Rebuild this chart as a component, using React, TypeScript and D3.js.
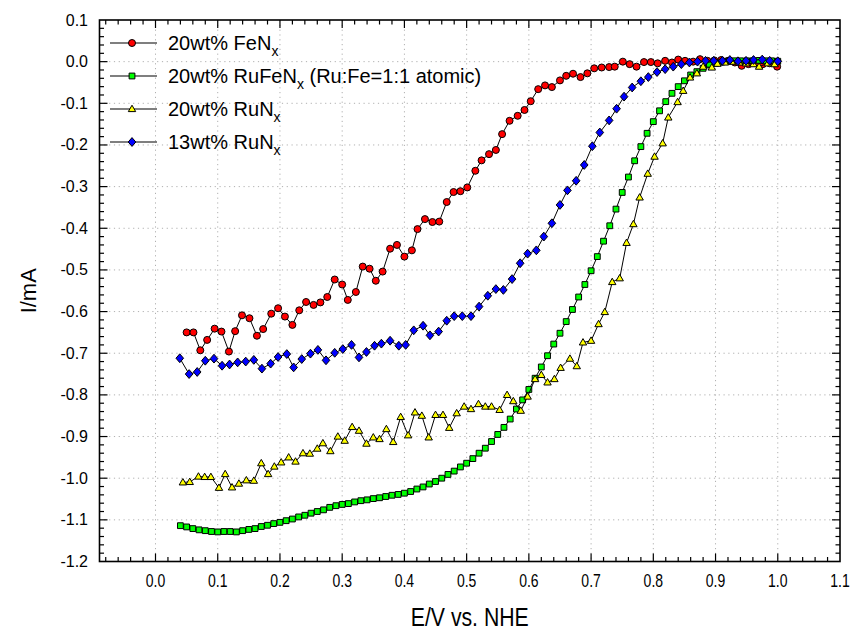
import React from "react";
import * as d3 from "d3";

// ---------- data ----------
const feE = [0.050,0.061,0.072,0.083,0.095,0.106,0.118,0.128,0.139,0.151,0.163,0.173,0.186,0.197,0.208,0.220,0.231,0.242,0.254,0.265,0.276,0.288,0.300,0.309,0.322,0.333,0.344,0.354,0.365,0.377,0.388,0.400,0.412,0.421,0.433,0.445,0.456,0.468,0.479,0.490,0.501,0.514,0.524,0.536,0.547,0.557,0.569,0.582,0.593,0.603,0.615,0.626,0.637,0.650,0.660,0.671,0.683,0.694,0.705,0.717,0.729,0.738,0.751,0.762,0.773,0.785,0.796,0.807,0.819,0.830,0.840,0.851,0.864,0.875,0.887,0.898,0.909,0.920,0.931,0.942,0.953,0.965,0.976,0.987,0.999];
const feI = [-0.650,-0.650,-0.693,-0.668,-0.641,-0.648,-0.696,-0.647,-0.609,-0.616,-0.658,-0.642,-0.605,-0.592,-0.612,-0.632,-0.597,-0.577,-0.584,-0.578,-0.565,-0.523,-0.535,-0.572,-0.553,-0.492,-0.497,-0.526,-0.504,-0.449,-0.440,-0.468,-0.453,-0.402,-0.378,-0.385,-0.384,-0.337,-0.313,-0.311,-0.302,-0.262,-0.237,-0.222,-0.212,-0.174,-0.142,-0.130,-0.116,-0.095,-0.066,-0.057,-0.061,-0.045,-0.034,-0.029,-0.037,-0.028,-0.016,-0.014,-0.013,-0.012,0.000,-0.006,-0.012,-0.001,-0.001,-0.004,0.002,-0.002,0.005,0.002,0.000,0.006,0.002,0.003,0.004,0.002,-0.002,-0.010,-0.006,-0.004,-0.006,-0.004,-0.012];

const rufeE = [0.04,0.05,0.06,0.07,0.08,0.09,0.10,0.11,0.12,0.13,0.14,0.15,0.16,0.17,0.18,0.19,0.20,0.21,0.22,0.23,0.24,0.25,0.26,0.27,0.28,0.29,0.30,0.31,0.32,0.33,0.34,0.35,0.36,0.37,0.38,0.39,0.40,0.41,0.42,0.43,0.44,0.45,0.46,0.47,0.48,0.49,0.50,0.51,0.52,0.53,0.54,0.55,0.56,0.57,0.58,0.59,0.60,0.61,0.62,0.63,0.64,0.65,0.66,0.67,0.68,0.69,0.70,0.71,0.72,0.73,0.74,0.75,0.76,0.77,0.78,0.79,0.80,0.81,0.82,0.83,0.84,0.85,0.86,0.87,0.88,0.89,0.90,0.91,0.92,0.93,0.94,0.95,0.96,0.97,0.98,0.99,1.00];
const rufeI = [-1.114,-1.117,-1.121,-1.124,-1.126,-1.128,-1.129,-1.128,-1.128,-1.129,-1.126,-1.123,-1.121,-1.116,-1.113,-1.109,-1.106,-1.102,-1.098,-1.093,-1.089,-1.084,-1.080,-1.076,-1.070,-1.066,-1.063,-1.061,-1.057,-1.054,-1.052,-1.049,-1.047,-1.044,-1.041,-1.039,-1.036,-1.032,-1.026,-1.021,-1.014,-1.008,-1.000,-0.991,-0.983,-0.973,-0.964,-0.953,-0.940,-0.928,-0.912,-0.895,-0.878,-0.858,-0.834,-0.812,-0.787,-0.760,-0.733,-0.706,-0.678,-0.652,-0.624,-0.595,-0.565,-0.535,-0.502,-0.468,-0.431,-0.394,-0.354,-0.314,-0.277,-0.238,-0.204,-0.172,-0.144,-0.118,-0.096,-0.076,-0.060,-0.046,-0.032,-0.024,-0.016,-0.008,-0.004,-0.001,0.001,0.002,0.002,0.002,0.002,0.003,0.002,0.002,0.001];

const ru20E = [0.044,0.055,0.069,0.079,0.089,0.102,0.112,0.123,0.134,0.146,0.158,0.170,0.181,0.191,0.202,0.214,0.225,0.237,0.248,0.260,0.269,0.281,0.293,0.304,0.316,0.327,0.339,0.350,0.360,0.371,0.382,0.394,0.406,0.417,0.428,0.439,0.450,0.462,0.472,0.484,0.496,0.507,0.519,0.530,0.540,0.553,0.565,0.575,0.587,0.598,0.610,0.620,0.630,0.641,0.651,0.666,0.677,0.687,0.700,0.712,0.722,0.734,0.746,0.757,0.768,0.778,0.791,0.802,0.815,0.824,0.839,0.848,0.859,0.870,0.880,0.894,0.903,0.915,0.926,0.938,0.949,0.961,0.970,0.984,0.995];
const ru20I = [-1.010,-1.009,-0.996,-0.997,-0.997,-1.023,-0.990,-1.022,-1.013,-1.005,-1.006,-0.964,-0.990,-0.972,-0.962,-0.950,-0.960,-0.940,-0.941,-0.929,-0.916,-0.935,-0.900,-0.910,-0.877,-0.886,-0.917,-0.902,-0.906,-0.882,-0.913,-0.853,-0.897,-0.842,-0.850,-0.902,-0.848,-0.848,-0.879,-0.844,-0.828,-0.834,-0.822,-0.828,-0.828,-0.836,-0.800,-0.815,-0.838,-0.804,-0.762,-0.752,-0.770,-0.762,-0.735,-0.713,-0.731,-0.674,-0.670,-0.630,-0.601,-0.529,-0.520,-0.435,-0.390,-0.326,-0.269,-0.228,-0.196,-0.134,-0.097,-0.070,-0.038,-0.028,-0.012,-0.014,-0.005,-0.002,0.000,-0.002,-0.004,-0.006,-0.012,-0.004,-0.006];

const ru13E = [0.039,0.054,0.067,0.080,0.094,0.107,0.119,0.132,0.145,0.158,0.171,0.185,0.197,0.211,0.222,0.235,0.249,0.261,0.274,0.288,0.301,0.315,0.327,0.339,0.352,0.363,0.377,0.391,0.402,0.415,0.430,0.441,0.455,0.468,0.480,0.493,0.507,0.520,0.534,0.547,0.559,0.573,0.586,0.598,0.612,0.624,0.637,0.650,0.662,0.676,0.689,0.702,0.714,0.729,0.741,0.753,0.766,0.780,0.792,0.806,0.819,0.832,0.845,0.858,0.871,0.884,0.897,0.911,0.923,0.936,0.949,0.961,0.975,0.987,1.000];
const ru13I = [-0.712,-0.750,-0.745,-0.718,-0.713,-0.730,-0.727,-0.722,-0.720,-0.716,-0.737,-0.725,-0.709,-0.702,-0.734,-0.714,-0.701,-0.692,-0.717,-0.699,-0.690,-0.680,-0.710,-0.697,-0.682,-0.677,-0.670,-0.682,-0.680,-0.645,-0.634,-0.657,-0.648,-0.622,-0.611,-0.611,-0.611,-0.588,-0.562,-0.546,-0.548,-0.522,-0.484,-0.461,-0.453,-0.420,-0.388,-0.344,-0.309,-0.286,-0.248,-0.203,-0.170,-0.141,-0.113,-0.084,-0.062,-0.047,-0.037,-0.025,-0.018,-0.012,-0.006,-0.002,0.000,0.002,0.002,0.002,0.004,0.001,0.002,0.004,0.005,0.002,0.001];

const seriesNames = ["20wt% FeN", "20wt% RuFeN", "20wt% RuN", "13wt% RuN"];
const seriesSuffix = ["", " (Ru:Fe=1:1 atomic)", "", ""];
const seriesColors = ["#ff0000", "#00ff00", "#ffff00", "#0000ff"];
const seriesMarkers = ["circle", "square", "triangle", "diamond"];

const xTickValues = [0.0, 0.1, 0.2, 0.3, 0.4, 0.5, 0.6, 0.7, 0.8, 0.9, 1.0, 1.1];
const yTickValues = [0.1, 0.0, -0.1, -0.2, -0.3, -0.4, -0.5, -0.6, -0.7, -0.8, -0.9, -1.0, -1.1, -1.2];

const xTitle = "E/V vs. NHE";
const yTitle = "I/mA";

// ---------- layout ----------
const W = 854;
const H = 638;
const L = 99.5, R = 840, T = 20, B = 561.5;
const FONT = "'Liberation Sans', Arial, Helvetica, sans-serif";

function markerPath(kind: string): string {
  switch (kind) {
    case "circle":
      return "M3.5,0A3.5,3.5,0,1,1,-3.5,0A3.5,3.5,0,1,1,3.5,0Z";
    case "square":
      return "M-2.9,-2.9H2.9V2.9H-2.9Z";
    case "triangle":
      return "M0,-3.8L3.7,2.6L-3.7,2.6Z";
    default:
      return "M0,-4.4L3.8,0L0,4.4L-3.8,0Z";
  }
}

export default function App() {
  const x = d3.scaleLinear().domain([-0.09, 1.1]).range([L, R]);
  const y = d3.scaleLinear().domain([-1.2, 0.1]).range([B, T]);

  const allSeries = [
    { xs: feE, ys: feI },
    { xs: rufeE, ys: rufeI },
    { xs: ru20E, ys: ru20I },
    { xs: ru13E, ys: ru13I },
  ].map((s, i) => ({
    pts: s.xs.map((v, j) => [v, s.ys[j]] as [number, number]),
    color: seriesColors[i],
    marker: seriesMarkers[i],
  }));

  const line = d3
    .line<[number, number]>()
    .x((d) => x(d[0]))
    .y((d) => y(d[1]));

  const xMinor = d3.range(-8, 56).map((k) => k * 0.02).filter((v) => v > -0.09 && v < 1.1);
  const yMinor = d3.range(-60, 6).map((k) => k * 0.02).filter((v) => v > -1.2 && v < 0.1);
  const isMajor = (v: number) => Math.abs(v * 10 - Math.round(v * 10)) < 1e-6;

  const fmt = d3.format(".1f");
  const fmtY = (v: number) => fmt(v).replace("−", "-");

  const gridX = xTickValues.filter((v) => v < 1.05);
  const gridY = yTickValues.filter((v) => v < 0.05 && v > -1.15);

  const legendY = [43, 76, 109, 142];

  return (
    <svg
      width={W}
      height={H}
      viewBox={`0 0 ${W} ${H}`}
      style={{ position: "absolute", left: 0, top: 0, background: "#fff" }}
      fontFamily={FONT}
    >
      <rect x={0} y={0} width={W} height={H} fill="#fff" />
      {/* grid */}
      <g stroke="#b0b0b0" strokeWidth={1} strokeDasharray="1.2,3.6">
        {gridX.map((v) => (
          <line key={"gx" + v} x1={x(v)} x2={x(v)} y1={T} y2={B} />
        ))}
        {gridY.map((v) => (
          <line key={"gy" + v} x1={L} x2={R} y1={y(v)} y2={y(v)} />
        ))}
      </g>

      {/* ticks */}
      <g stroke="#000" strokeWidth={1.2}>
        {xMinor.map((v) => {
          const len = isMajor(v) ? 8 : 4.5;
          return (
            <g key={"xt" + v}>
              <line x1={x(v)} x2={x(v)} y1={B} y2={B - len} />
              <line x1={x(v)} x2={x(v)} y1={T} y2={T + len} />
            </g>
          );
        })}
        {yMinor.map((v) => {
          const len = isMajor(v) ? 8 : 4.5;
          return (
            <g key={"yt" + v}>
              <line x1={L} x2={L + len} y1={y(v)} y2={y(v)} />
              <line x1={R} x2={R - len} y1={y(v)} y2={y(v)} />
            </g>
          );
        })}
      </g>

      {/* frame */}
      <rect x={L} y={T} width={R - L} height={B - T} fill="none" stroke="#000" strokeWidth={1.6} />

      {/* series */}
      {allSeries.map((s, i) => (
        <g key={"s" + i}>
          <path d={line(s.pts) || ""} fill="none" stroke="#000" strokeWidth={1} />
          {s.pts.map((p, j) => (
            <path
              key={j}
              d={markerPath(s.marker)}
              transform={`translate(${x(p[0])},${y(p[1])})`}
              fill={s.color}
              stroke="#000"
              strokeWidth={1}
            />
          ))}
        </g>
      ))}

      {/* x tick labels (condensed) */}
      {xTickValues.map((v) => (
        <text
          key={"xl" + v}
          transform={`translate(${x(v)},${587}) scale(0.8,1)`}
          textAnchor="middle"
          fontSize={17.5}
          fill="#000"
        >
          {fmt(v)}
        </text>
      ))}

      {/* y tick labels */}
      {yTickValues.map((v) => (
        <text key={"yl" + v} x={88} y={y(v) + 5.5} textAnchor="end" fontSize={16} fill="#000">
          {fmtY(v)}
        </text>
      ))}

      {/* axis titles */}
      <text
        transform={`translate(${(L + R) / 2},${626}) scale(0.85,1)`}
        textAnchor="middle"
        fontSize={25}
        fill="#000"
      >
        {xTitle}
      </text>
      <text
        transform={`translate(${36},${(T + B) / 2}) rotate(-90)`}
        textAnchor="middle"
        fontSize={22}
        fill="#000"
      >
        {yTitle}
      </text>

      {/* legend */}
      {seriesNames.map((name, i) => (
        <g key={"lg" + i}>
          <line x1={110} x2={157} y1={legendY[i]} y2={legendY[i]} stroke="#000" strokeWidth={1.2} />
          <path
            d={markerPath(seriesMarkers[i])}
            transform={`translate(${132},${legendY[i]})`}
            fill={seriesColors[i]}
            stroke="#000"
            strokeWidth={1}
          />
          <text x={168} y={legendY[i] + 7} fontSize={20} fill="#000">
            {name}
            <tspan fontSize={14} dy={6}>x</tspan>
            {seriesSuffix[i] ? <tspan dy={-6}>{seriesSuffix[i]}</tspan> : null}
          </text>
        </g>
      ))}
    </svg>
  );
}
